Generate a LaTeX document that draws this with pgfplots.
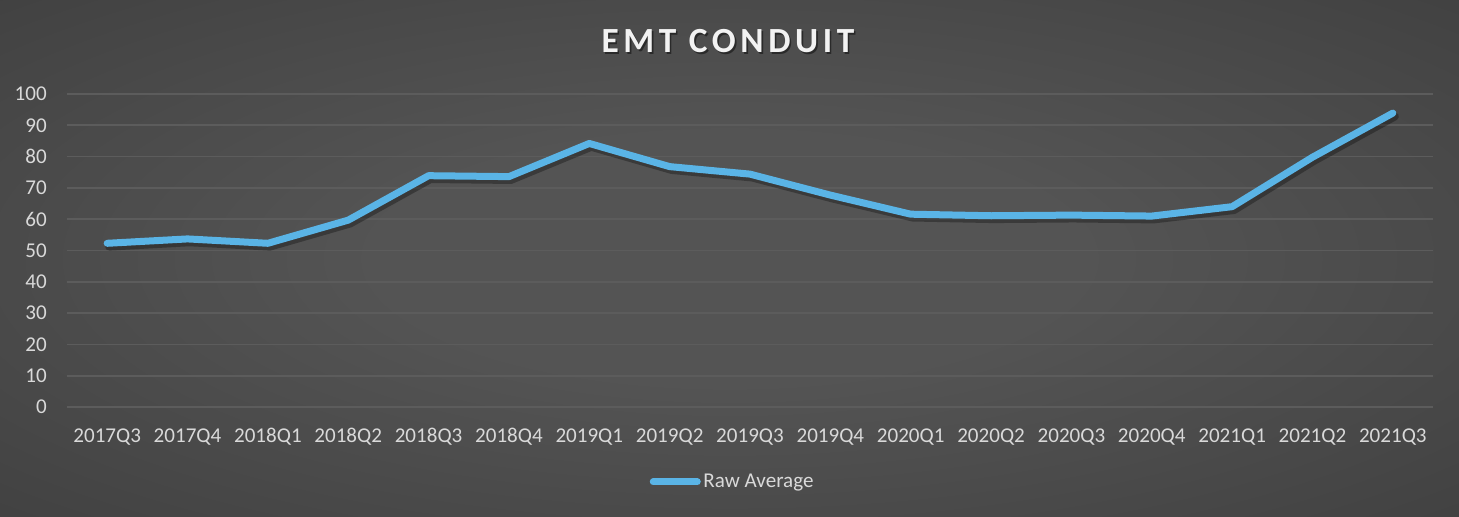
\documentclass[border=0pt]{standalone}
\usepackage{pgfplots}
\pgfplotsset{compat=1.18}
\usepackage{fontspec}
\setmainfont{Carlito}
\newfontfamily\titlefont[LetterSpace=13]{Carlito}
\definecolor{bgin}{HTML}{545454}
\definecolor{bgmid}{HTML}{424242}
\definecolor{bgout}{HTML}{1F1F1F}
\definecolor{linec}{HTML}{5AB4E6}
\definecolor{gridc}{HTML}{5C5C5C}
\definecolor{tickc}{HTML}{D9D9D9}
\definecolor{titlec}{HTML}{F2F2F2}
\pgfdeclareradialshading{bgshade}{\pgfpoint{0bp}{0bp}}{color(0bp)=(bgin); color(12bp)=(bgin); color(35bp)=(bgmid); color(55bp)=(bgout); color(75bp)=(bgout)}
\begin{document}
\begin{tikzpicture}
\shade[shading=bgshade] (0pt,0pt) rectangle (1094.25pt,387.75pt);
\node[font=\titlefont\bfseries\fontsize{26.5}{30}\selectfont, text=black, opacity=0.45] at (547.2pt,355.1pt) {EMT CONDUIT};
\node[font=\titlefont\bfseries\fontsize{26.5}{30}\selectfont, text=titlec] at (546pt,356.6pt) {EMT CONDUIT};
\begin{axis}[
  at={(50.25pt,82.5pt)}, anchor=south west,
  scale only axis,
  width=1024.5pt, height=234.75pt,
  xmin=-0.5, xmax=16.5,
  ymin=0, ymax=100,
  ytick={0,10,...,100},
  xtick=data,
  xticklabels={2017Q3,2017Q4,2018Q1,2018Q2,2018Q3,2018Q4,2019Q1,2019Q2,2019Q3,2019Q4,2020Q1,2020Q2,2020Q3,2020Q4,2021Q1,2021Q2,2021Q3},
  axis line style={draw=none},
  major tick length=0pt,
  ymajorgrids,
  grid style={draw=gridc, line width=1.3pt},
  tick label style={font=\fontsize{15.8}{18}\selectfont, text=tickc},
  /pgf/number format/assume math mode=true,
  yticklabel style={inner sep=0pt, xshift=-15pt},
  xticklabel style={inner sep=0pt, yshift=-16pt},
  legend style={at={(0.4875,-0.2396)}, anchor=center, draw=none, fill=none,
    font=\fontsize{15.8}{18}\selectfont, text=tickc, inner sep=0pt},
  legend image code/.code={\draw[line width=5.25pt, line cap=round, linec] (0pt,0pt) -- (33pt,0pt);},
  clip=false,
]
\addplot[draw=black, opacity=0.3, line width=6pt, line join=round, line cap=round,
  transform canvas={xshift=1.5pt, yshift=-2.5pt}, forget plot]
  coordinates {(0,52.3)(1,53.7)(2,52.3)(3,59.7)(4,73.9)(5,73.6)(6,84.2)(7,76.8)(8,74.4)(9,67.7)(10,61.6)(11,61.1)(12,61.3)(13,61.0)(14,64.0)(15,79.8)(16,93.9)};
\addplot[draw=linec, line width=5.25pt, line join=round, line cap=round]
  coordinates {(0,52.3)(1,53.7)(2,52.3)(3,59.7)(4,73.9)(5,73.6)(6,84.2)(7,76.8)(8,74.4)(9,67.7)(10,61.6)(11,61.1)(12,61.3)(13,61.0)(14,64.0)(15,79.8)(16,93.9)};
\addlegendentry{Raw Average}
\end{axis}
\end{tikzpicture}
\end{document}
